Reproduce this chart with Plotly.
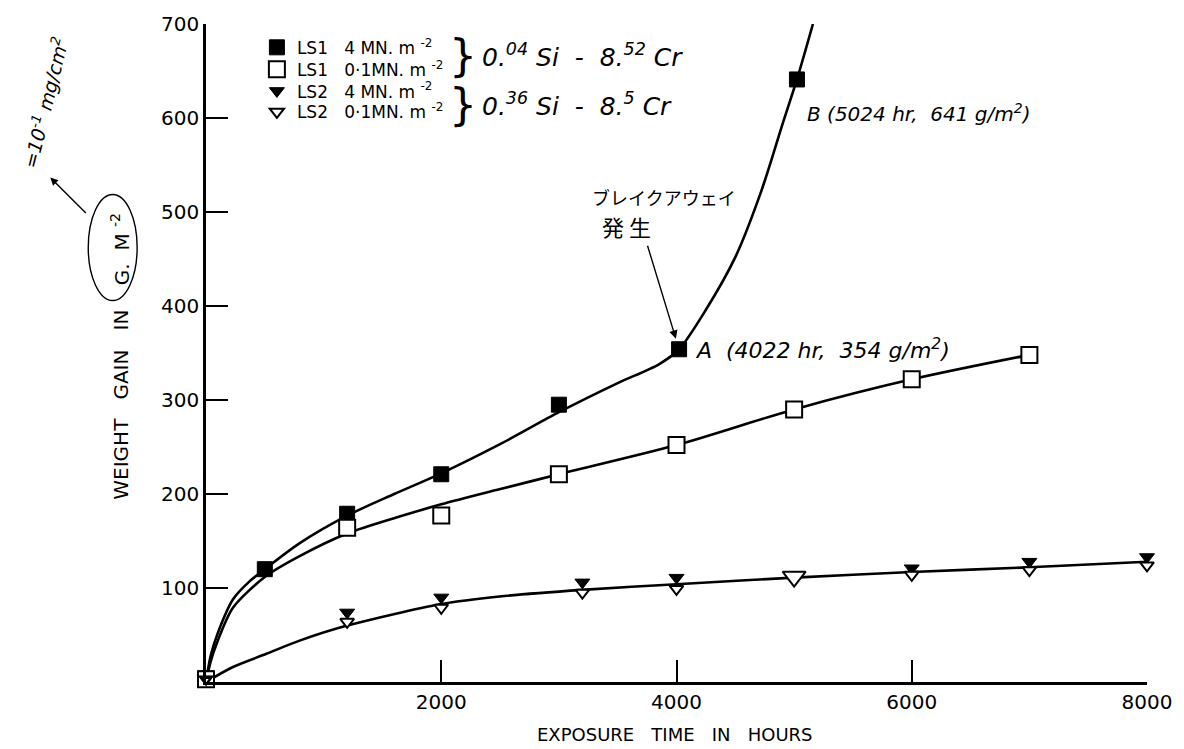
import plotly.graph_objects as go

# ---- measured weight gain (g/m^2) vs exposure time (h) ----
ls1_hi_t = [0, 500, 1200, 2000, 3000, 4022, 5024]
ls1_hi_w = [4, 120, 179, 221, 295, 354, 641]

ls1_lo_t = [0, 1200, 2000, 3000, 4000, 5000, 6000, 7000]
ls1_lo_w = [3, 164, 177, 221, 252, 290, 322, 348]

ls2_hi_t = [0, 1200, 2000, 3200, 4000, 6000, 7000, 8000]
ls2_hi_w = [3, 74, 90, 106, 111, 121, 128, 133]

ls2_lo_t = [0, 1200, 2000, 3200, 4000, 5000, 6000, 7000, 8000]
ls2_lo_w = [2, 64, 79, 95, 99, 112, 114, 119, 124]

# ---- hand-faired curves through the data ----
fit1_t = [0, 40, 100, 230, 370, 500, 800, 1200, 1600, 2000, 2500, 3000, 3500, 3850, 4022, 4250, 4500, 4720, 4900, 5024, 5160]
fit1_w = [0, 28, 52, 88, 107, 120, 148, 177, 200, 222, 253, 287, 318, 338, 354, 396, 452, 522, 593, 641, 700]

fit2_t = [0, 40, 91, 229, 513, 796, 1200, 1645, 2000, 2494, 3000, 4000, 5000, 6000, 7000]
fit2_w = [0, 22, 41, 79, 113, 134, 158, 176, 189, 205, 221, 252, 290, 322, 348]

fit3_t = [0, 229, 513, 796, 1200, 2000, 2494, 3200, 4000, 5000, 6000, 7000, 8000]
fit3_w = [0, 16, 30, 44, 60, 83, 91, 98, 104, 111, 117, 122, 128]

x_ticks = [2000, 4000, 6000, 8000]
y_ticks = [100, 200, 300, 400, 500, 600, 700]

series_names = [
    "LS1   4 MN. m <sup>-2</sup>",
    "LS1   0·1MN. m <sup>-2</sup>",
    "LS2   4 MN. m <sup>-2</sup>",
    "LS2   0·1MN. m <sup>-2</sup>",
]

# point A / B labels
pt_a = (4022, 354)
pt_b = (5024, 641)

# ---- layout geometry (pixels) ----
W, H = 1184, 749
L, R, T, B = 206, 35, 18, 67
PW, PH = W - L - R, H - T - B


def px(xp):
    return (xp - L) / PW


def py(yp):
    return (H - B - yp) / PH


INK = "#000000"
TICK_FONT = dict(family="DejaVu Sans", size=20, color=INK)
HAND = "DejaVu Sans"


def note(xp, yp, text, size, family="DejaVu Sans", angle=0, anchor="center"):
    """Free text placed by page pixel position."""
    return dict(x=px(xp), y=py(yp), xref="paper", yref="paper", showarrow=False,
                xanchor=anchor, yanchor="middle", textangle=angle, text=text,
                font=dict(family=family, size=size, color=INK))


fig = go.Figure()

for ft, fw in [(fit1_t, fit1_w), (fit2_t, fit2_w), (fit3_t, fit3_w)]:
    fig.add_trace(go.Scatter(
        x=ft, y=fw, mode="lines", showlegend=False, hoverinfo="skip",
        line=dict(color=INK, width=2.6, shape="spline", smoothing=0.8),
        cliponaxis=True,
    ))

lo2_sizes = [8, 12, 12, 12, 12, 20, 12, 12, 12]

fig.add_trace(go.Scatter(
    x=ls1_hi_t, y=ls1_hi_w, mode="markers", name=series_names[0], legend="legend",
    marker=dict(symbol="square", size=15, color=INK, opacity=1, line=dict(color=INK, width=1)),
    cliponaxis=False,
))
fig.add_trace(go.Scatter(
    x=ls1_lo_t, y=ls1_lo_w, mode="markers", name=series_names[1], legend="legend2",
    marker=dict(symbol="square", size=16, color="white", opacity=1, line=dict(color=INK, width=2)),
    cliponaxis=False,
))
fig.add_trace(go.Scatter(
    x=ls2_hi_t, y=ls2_hi_w, mode="markers", name=series_names[2], legend="legend3",
    marker=dict(symbol="triangle-down", size=13, color=INK, opacity=1, line=dict(color=INK, width=1)),
    cliponaxis=False,
))
fig.add_trace(go.Scatter(
    x=ls2_lo_t, y=ls2_lo_w, mode="markers", name=series_names[3], legend="legend4",
    marker=dict(symbol="triangle-down", size=lo2_sizes, color="white", opacity=1,
                line=dict(color=INK, width=2)),
    cliponaxis=False,
))

annotations = [
    # point labels
    dict(x=pt_a[0], y=pt_a[1], xref="x", yref="y", xanchor="left", yanchor="middle",
         xshift=14, showarrow=False,
         text=f"<i>A  ({pt_a[0]} hr,  {pt_a[1]} g/m<sup>2</sup>)</i>",
         font=dict(family=HAND, size=22, color=INK)),
    dict(x=pt_b[0], y=pt_b[1], xref="x", yref="y", xanchor="left", yanchor="middle",
         xshift=8, yshift=-34, showarrow=False,
         text=f"<i>B ({pt_b[0]} hr,  {pt_b[1]} g/m<sup>2</sup>)</i>",
         font=dict(family=HAND, size=20, color=INK)),
    # breakaway note
    note(665, 193, "ブレイクアウェイ", 18, "Noto Sans CJK JP"),
    note(627, 222, "発 生", 22, "Noto Sans CJK JP"),
    dict(x=pt_a[0], y=pt_a[1], xref="x", yref="y", text="", showarrow=True,
         ax=-32, ay=-105, arrowhead=2, arrowsize=1.2, arrowwidth=1.4,
         arrowcolor=INK, standoff=11),
    # alloy compositions next to the legend
    note(464, 50, "}", 44),
    note(464, 99, "}", 44),
    note(481, 50, "<i>0.<sup>04</sup> Si  -  8.<sup>52</sup> Cr</i>", 25, HAND, anchor="left"),
    note(481, 99, "<i>0.<sup>36</sup> Si  -  8.<sup>5</sup> Cr</i>", 25, HAND, anchor="left"),
    # axis titles
    note(676, 735, "EXPOSURE   TIME   IN   HOURS", 18),
    note(120, 402, "WEIGHT   GAIN   IN", 20, angle=-90),
    note(120, 245, "G.  M <sup>-2</sup>", 20, angle=-90),
    # unit conversion note
    dict(x=px(50), y=py(173), xref="paper", yref="paper", text="", showarrow=True,
         ax=37, ay=37, arrowhead=2, arrowsize=1.1, arrowwidth=1.4, arrowcolor=INK),
    note(45, 97, "<i>=10<sup>-1</sup> mg/cm<sup>2</sup></i>", 19, HAND, angle=-76),
]

shapes = [
    dict(type="circle", xref="paper", yref="paper",
         x0=px(88), x1=px(137), y0=py(297), y1=py(190),
         line=dict(color=INK, width=1.4)),
]


def legend_row(yp):
    return dict(
        x=px(257), y=py(yp), xanchor="left", yanchor="middle",
        bgcolor="rgba(0,0,0,0)", borderwidth=0,
        font=dict(family="DejaVu Sans", size=17, color=INK),
        itemwidth=30,
    )


fig.update_layout(
    width=W, height=H,
    margin=dict(l=L, r=R, t=T, b=B),
    paper_bgcolor="white", plot_bgcolor="white",
    annotations=annotations, shapes=shapes,
    showlegend=True,
    legend=legend_row(42),
    legend2=legend_row(64),
    legend3=legend_row(86),
    legend4=legend_row(107),
    xaxis=dict(
        range=[0, 8000], tickvals=x_ticks, ticktext=[str(v) for v in x_ticks],
        ticks="inside", ticklen=22, tickwidth=1.6, tickcolor=INK,
        showline=True, linecolor=INK, linewidth=2.6,
        showgrid=False, zeroline=False, tickfont=TICK_FONT,
    ),
    yaxis=dict(
        range=[0, 700], tickvals=y_ticks, ticktext=[str(v) for v in y_ticks],
        ticks="inside", ticklen=22, tickwidth=1.6, tickcolor=INK,
        showline=True, linecolor=INK, linewidth=2.6,
        showgrid=False, zeroline=False, tickfont=TICK_FONT,
    ),
)

fig.write_html("out.html")
